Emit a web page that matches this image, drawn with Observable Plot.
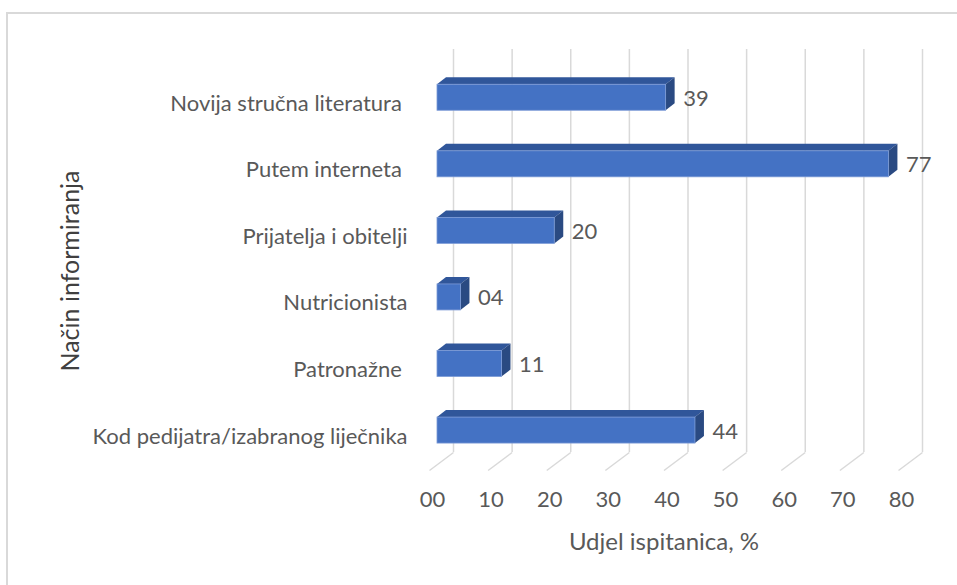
<!DOCTYPE html>
<html><head><meta charset="utf-8">
<script src="https://cdn.jsdelivr.net/npm/d3@7"></script>
<script src="https://cdn.jsdelivr.net/npm/@observablehq/plot@0.6"></script>
<style>
html,body{margin:0;padding:0;background:#fff;overflow:hidden;width:957px;height:585px;}
#frame{position:absolute;left:6px;top:12px;width:1000px;height:700px;border:2px solid #d9d9d9;box-sizing:border-box;}
#chart{position:absolute;left:0;top:0;}
#chart svg text{white-space:pre;}
</style></head><body>
<div id="frame"></div>
<div id="chart"></div>
<script>
// ---- data ----
const categories = ["Novija stručna literatura ", "Putem interneta ", "Prijatelja i obitelji", "Nutricionista", "Patronažne ", "Kod pedijatra/izabranog liječnika"];
const values = [39, 77, 20, 4, 11, 44];
const xTicks = [0, 10, 20, 30, 40, 50, 60, 70, 80];
const xTitle = "Udjel ispitanica, %";
const yTitle = "Način informiranja";

// ---- layout ----
const W = 957, H = 585;
const mL = 429, mR = 59, mT = 49, mB = 115;
const xDomain = [0, 80];
const yTop = -0.725, yBot = 5.6;
const PX = (xDomain[1] - xDomain[0]) / (W - mL - mR); // x units per pixel
const PY = (yBot - yTop) / (H - mT - mB);             // y units per pixel
const FLOOR_DX = 24, FLOOR_DY = 18;   // px depth of the 3D floor
const BAR_GAP = 8;                    // px bar front from floor front
const BAR_DX = 9, BAR_DY = 7;         // px bar depth
const BAR_H = 26;                     // px front-face height

const fmt = d3.format("02d");
const rows = categories.map((c, i) => ({c, i, v: values[i]}));
const topPts = rows.flatMap(d => [
  {c: d.c, y: d.i - BAR_H / 2 * PY, x1: 0, x2: d.v},
  {c: d.c, y: d.i - BAR_H / 2 * PY - BAR_DY * PY, x1: BAR_DX * PX, x2: d.v + BAR_DX * PX}
]);
const sidePts = rows.flatMap(d => [
  {c: d.c, x: d.v, y1: d.i + BAR_H / 2 * PY, y2: d.i - BAR_H / 2 * PY},
  {c: d.c, x: d.v + BAR_DX * PX, y1: d.i + BAR_H / 2 * PY - BAR_DY * PY, y2: d.i - BAR_H / 2 * PY - BAR_DY * PY}
]);

const txt = "#595959";
const chart = Plot.plot({
  width: W, height: H,
  marginLeft: mL, marginRight: mR, marginTop: mT, marginBottom: mB,
  style: {fontFamily: "Lato, sans-serif", background: "transparent", overflow: "visible"},
  x: {domain: xDomain},
  y: {domain: [yTop, yBot], reverse: true},
  marks: [
    // back wall gridlines
    Plot.ruleX(xTicks, {x: d => d + FLOOR_DX * PX, y1: yTop, y2: yBot - FLOOR_DY * PY, stroke: "#d9d9d9", strokeWidth: 1.5}),
    // floor diagonals
    Plot.link(xTicks, {x1: d => d, y1: yBot, x2: d => d + FLOOR_DX * PX, y2: yBot - FLOOR_DY * PY, stroke: "#d9d9d9", strokeWidth: 1.5}),
    // bar top faces
    Plot.areaX(topPts, {y: "y", x1: "x1", x2: "x2", z: "c", fill: "#30569a", dx: BAR_GAP}),
    // bar side faces
    Plot.areaY(sidePts, {x: "x", y1: "y1", y2: "y2", z: "c", fill: "#2a4a82", dx: BAR_GAP}),
    // bar front faces
    Plot.rect(rows, {x1: () => 0, x2: "v", y1: d => d.i - BAR_H / 2 * PY, y2: d => d.i + BAR_H / 2 * PY, fill: "#4472c4", stroke: "#7b9ad6", strokeWidth: 0.8, dx: BAR_GAP}),
    // value labels
    Plot.text(rows, {x: "v", y: "i", text: d => fmt(d.v), dx: BAR_GAP + 17, dy: 1, textAnchor: "start", fontSize: 22, fill: txt}),
    // axes
    Plot.axisY(rows.map(d => d.i), {tickFormat: i => categories[i], tickSize: 0, tickPadding: 22, fontSize: 22, fill: txt, dy: 6, label: null}),
    Plot.axisX(xTicks, {tickFormat: fmt, tickSize: 0, tickPadding: 21, fontSize: 22, fill: txt, dx: 3, label: null}),
    // titles
    Plot.text([xTitle], {frameAnchor: "bottom", dy: 72, fontSize: 24, fill: txt, textAnchor: "middle", lineAnchor: "middle"}),
    Plot.text([yTitle], {frameAnchor: "left", dx: -359, dy: 11, rotate: -90, fontSize: 25, fill: "#404040", textAnchor: "middle", lineAnchor: "middle"})
  ]
});
document.getElementById("chart").appendChild(chart);
</script>
</body></html>
